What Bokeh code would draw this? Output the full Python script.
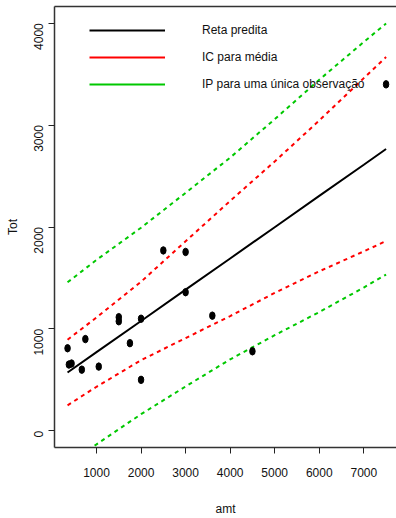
import math
from bokeh.plotting import figure
from bokeh.models import Range1d, FixedTicker, LinearAxis, Legend, LegendItem, ColumnDataSource
from bokeh.embed import file_html
from bokeh.resources import INLINE

# observed data
amt = [350, 380, 440, 670, 750, 1050, 1500, 1500, 1750, 2000, 2000, 2500, 3000, 3000, 3600, 4500, 7500]
tot = [810, 650, 660, 600, 900, 630, 1115, 1075, 860, 1100, 500, 1770, 1755, 1360, 1130, 780, 3400]

# fitted line and bands
band_amt = [350, 1000, 2000, 3000, 4000, 5000, 6000, 7000, 7500]
fit = [572, 772, 1078, 1385, 1691, 1998, 2305, 2611, 2765]
ic_upper = [894, 1112, 1463, 1860, 2256, 2643, 3045, 3461, 3668]
ic_lower = [250, 432, 693, 910, 1126, 1353, 1565, 1761, 1862]
ip_upper = [1457, 1677, 1993, 2335, 2681, 3058, 3445, 3816, 3997]
ip_lower = [-313, -133, 163, 435, 701, 938, 1165, 1406, 1533]

x_ticks = [1000, 2000, 3000, 4000, 5000, 6000, 7000]
y_ticks = [0, 1000, 2000, 3000, 4000]
legend_labels = ["Reta predita", "IC para média", "IP para uma única observação"]

BLACK = "#000000"
RED = "#FF0000"
GREEN = "#00C800"
FONT = "'Liberation Sans', Arial, sans-serif"

p = figure(width=396, height=518,
           x_range=Range1d(57, 7734), y_range=Range1d(-164, 4164),
           output_backend="svg", toolbar_location=None,
           min_border_left=54, min_border_right=0, min_border_top=6, min_border_bottom=71)
p.xgrid.visible = False
p.ygrid.visible = False
p.outline_line_color = None
p.background_fill_color = "white"

# axes
p.xaxis.ticker = FixedTicker(ticks=x_ticks)
p.yaxis.ticker = FixedTicker(ticks=y_ticks)
for ax in (p.xaxis[0], p.yaxis[0]):
    ax.axis_line_color = "#333333"
    ax.axis_line_width = 1.5
    ax.major_tick_out = 6
    ax.major_tick_in = 0
    ax.major_tick_line_color = "#222222"
    ax.minor_tick_line_color = None
    ax.major_label_text_color = "#111111"
    ax.axis_label_text_color = "#111111"
    ax.axis_label_text_font_style = "normal"
    ax.major_label_text_font = FONT
    ax.major_label_text_font_size = "12px"
    ax.axis_label_text_font = FONT
    ax.axis_label_text_font_size = "12px"

p.xaxis.axis_label = "amt"
p.xaxis.major_label_standoff = 14
p.xaxis.axis_label_standoff = 22

p.yaxis.axis_label = "Tot"
p.yaxis.major_label_orientation = math.pi / 2
p.yaxis.major_label_standoff = 10
p.yaxis.axis_label_standoff = 7

top_axis = LinearAxis(ticker=FixedTicker(ticks=[]), major_tick_out=0, major_tick_in=0,
                      minor_tick_out=0, minor_tick_in=0, major_label_standoff=0,
                      major_label_text_font_size="0px", axis_line_color="#333333",
                      axis_line_width=1.5)
p.add_layout(top_axis, "above")

# bands
bsrc = ColumnDataSource(dict(x=band_amt, fit=fit, icu=ic_upper, icl=ic_lower,
                             ipu=ip_upper, ipl=ip_lower))
p.line("x", "ipu", source=bsrc, line_color=GREEN, line_width=2, line_dash="4 4")
p.line("x", "ipl", source=bsrc, line_color=GREEN, line_width=2, line_dash="4 4")
p.line("x", "icu", source=bsrc, line_color=RED, line_width=2, line_dash="4 4")
p.line("x", "icl", source=bsrc, line_color=RED, line_width=2, line_dash="4 4")
p.line("x", "fit", source=bsrc, line_color=BLACK, line_width=2)

# points
p.ellipse(x=amt, y=tot, width=5.5, height=7.5, width_units="screen", height_units="screen",
          fill_color=BLACK, line_color=BLACK)

# legend (solid samples; single-point renderers draw nothing in the plot)
leg_r = [p.line(x=band_amt[:1], y=fit[:1], line_color=c, line_width=2) for c in (BLACK, RED, GREEN)]
legend = Legend(items=[LegendItem(label=l, renderers=[r]) for l, r in zip(legend_labels, leg_r)],
                location=(35, 353), glyph_width=76, glyph_height=20, label_height=20,
                label_standoff=37, spacing=7, padding=0, margin=0,
                border_line_alpha=0, background_fill_alpha=0,
                label_text_font=FONT, label_text_font_size="12px", label_text_color="#111111")
p.add_layout(legend)

open("out.html", "w").write(file_html(p, INLINE))
